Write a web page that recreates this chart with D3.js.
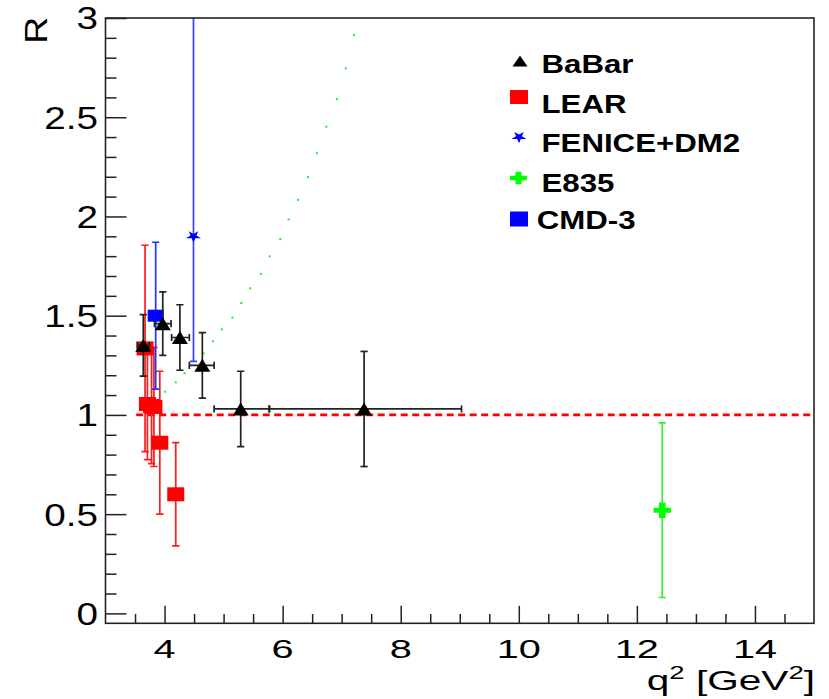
<!DOCTYPE html>
<html>
<head>
<meta charset="utf-8">
<script src="https://cdn.jsdelivr.net/npm/d3@7"></script>
<style>
body { margin: 0; background: #fff; }
text { font-family: "Liberation Sans", Arial, sans-serif; fill: #000; }
</style>
</head>
<body>
<svg width="829" height="699"></svg>
<script>
// BaBar
const babarX = [3.64, 3.97, 4.26, 4.64, 5.29, 7.38];
const babarY = [1.35, 1.46, 1.39, 1.25, 1.03, 1.03];
const babarErr = [0.155, 0.16, 0.165, 0.165, 0.19, 0.29];
const babarXLo = [0.10, 0.14, 0.14, 0.22, 0.45, 1.60];
const babarXHi = [0.10, 0.14, 0.16, 0.20, 0.48, 1.65];

// LEAR
const learX = [3.67, 3.71, 3.78, 3.82, 3.92, 4.19];
const learY = [1.335, 1.055, 1.045, 1.04, 0.86, 0.60];
const learErr = [0.52, 0.28, 0.29, 0.30, 0.36, 0.26];

// FENICE+DM2
const feniceX = [4.49];
const feniceY = [1.90];
const feniceErrLo = [0.63];
const feniceErrHi = [1.40];

// E835
const e835X = [12.43];
const e835Y = [0.52];
const e835Err = [0.44];

// CMD-3
const cmdX = [3.85];
const cmdY = [1.50];
const cmdErr = [0.37];

// green dotted curve, sample points
const curveX = [4.01, 4.19, 4.34, 4.66, 4.82, 4.97, 5.15, 5.30, 5.45, 5.63,
                5.78, 5.96, 6.10, 6.26, 6.43, 6.58, 6.74, 6.92, 7.07, 7.21];
const curveY = [1.117, 1.164, 1.210, 1.310, 1.371, 1.431, 1.490, 1.564, 1.638, 1.711,
                1.799, 1.886, 1.985, 2.084, 2.199, 2.319, 2.452, 2.591, 2.746, 2.914];

// reference line R = 1
const refLineX = [3.52, 15];
const refLineY = 1;

const xMajor = [4, 6, 8, 10, 12, 14];
const yMajor = [0, 0.5, 1, 1.5, 2, 2.5, 3];
const yTickLabels = ["0", "0.5", "1", "1.5", "2", "2.5", "3"];

const legendNames = ["BaBar", "LEAR", "FENICE+DM2", "E835", "CMD-3"];

const svg = d3.select("svg");
const pLeft = 105.5, pRight = 814, pTop = 18, pBottom = 623.3;

const x = d3.scaleLinear().domain([3, 15]).range([pLeft, pRight]);
const y = d3.scaleLinear().domain([-0.05, 3]).range([pBottom, pTop]);

svg.append("clipPath").attr("id", "plotClip")
    .append("rect")
    .attr("x", pLeft).attr("y", pTop)
    .attr("width", pRight - pLeft).attr("height", pBottom - pTop);

const plot = svg.append("g").attr("clip-path", "url(#plotClip)");

// markers
const triPath = (w, h) => `M${-w / 2},${h / 2}L${w / 2},${h / 2}L0,${-h / 2}Z`;
const crossPath = (w, h, tw, th) =>
    `M${-tw / 2},${-h / 2}H${tw / 2}V${-th / 2}H${w / 2}V${th / 2}H${tw / 2}V${h / 2}` +
    `H${-tw / 2}V${th / 2}H${-w / 2}V${-th / 2}H${-tw / 2}Z`;
const starPath = d3.symbol(d3.symbolStar, 55)();

function errorBars(g, xs, ys, lo, hi, color, xlo, xhi) {
    const cap = 3.6;
    xs.forEach((xv, i) => {
        const px = x(xv), py = y(ys[i]);
        const y1 = y(ys[i] - lo[i]), y2 = y(ys[i] + hi[i]);
        g.append("line").attr("x1", px).attr("x2", px).attr("y1", y1).attr("y2", y2)
            .attr("stroke", color).attr("stroke-width", 1.7);
        [y1, y2].forEach(yy => g.append("line")
            .attr("x1", px - cap).attr("x2", px + cap).attr("y1", yy).attr("y2", yy)
            .attr("stroke", color).attr("stroke-width", 1.7));
        if (xlo) {
            const x1 = x(xv - xlo[i]), x2 = x(xv + xhi[i]);
            g.append("line").attr("x1", x1).attr("x2", x2).attr("y1", py).attr("y2", py)
                .attr("stroke", color).attr("stroke-width", 1.7);
            [x1, x2].forEach(xx => g.append("line")
                .attr("x1", xx).attr("x2", xx).attr("y1", py - cap).attr("y2", py + cap)
                .attr("stroke", color).attr("stroke-width", 1.7));
        }
    });
}

// curve dots
plot.append("g").selectAll("rect")
    .data(curveX)
    .enter()
    .append("rect")
    .attr("x", (d, i) => x(d) - 1)
    .attr("y", (d, i) => y(curveY[i]) - 1)
    .attr("width", 2).attr("height", 2)
    .attr("fill", "#22ee22");

// dashed R = 1 line
plot.append("line")
    .attr("x1", x(refLineX[0])).attr("x2", x(refLineX[1]))
    .attr("y1", y(refLineY)).attr("y2", y(refLineY))
    .attr("stroke", "#ff0000").attr("stroke-width", 2.6)
    .attr("stroke-dasharray", "7,4.5");

// LEAR
const gLear = plot.append("g");
errorBars(gLear, learX, learY, learErr, learErr, "#ff1a1a");
gLear.selectAll("rect.m").data(learX).enter().append("rect").attr("class", "m")
    .attr("x", d => x(d) - 8.5).attr("y", (d, i) => y(learY[i]) - 7)
    .attr("width", 17).attr("height", 14).attr("fill", "#ff0000");

// FENICE+DM2
const gFen = plot.append("g");
errorBars(gFen, feniceX, feniceY, feniceErrLo, feniceErrHi, "#3344ff");
gFen.selectAll("path.m").data(feniceX).enter().append("path").attr("class", "m")
    .attr("d", starPath)
    .attr("transform", (d, i) => `translate(${x(d)},${y(feniceY[i])}) rotate(180) scale(1.15,0.9)`)
    .attr("fill", "#0000ff");

// E835
const gE = plot.append("g");
errorBars(gE, e835X, e835Y, e835Err, e835Err, "#33ee33");
gE.selectAll("path.m").data(e835X).enter().append("path").attr("class", "m")
    .attr("d", crossPath(17.5, 15.5, 6.5, 5))
    .attr("transform", (d, i) => `translate(${x(d)},${y(e835Y[i])})`)
    .attr("fill", "#00ff00");

// CMD-3
const gCmd = plot.append("g");
errorBars(gCmd, cmdX, cmdY, cmdErr, cmdErr, "#2233ff");
gCmd.selectAll("rect.m").data(cmdX).enter().append("rect").attr("class", "m")
    .attr("x", d => x(d) - 8).attr("y", (d, i) => y(cmdY[i]) - 6)
    .attr("width", 16).attr("height", 12).attr("fill", "#0000ff");

// BaBar
const gB = plot.append("g");
errorBars(gB, babarX, babarY, babarErr, babarErr, "#222", babarXLo, babarXHi);
gB.selectAll("path.m").data(babarX).enter().append("path").attr("class", "m")
    .attr("d", triPath(16, 13))
    .attr("transform", (d, i) => `translate(${x(d)},${y(babarY[i])})`)
    .attr("fill", "#000");

// axes ticks
function styleAxis(g) {
    g.selectAll("line").attr("stroke", "#222").attr("stroke-width", 1.5);
    g.selectAll("path.domain").remove();
    g.selectAll("text").remove();
}
const yMinor = d3.range(0, 3.001, 0.1).filter(v => Math.abs(v * 2 - Math.round(v * 2)) > 1e-6);
const xMinor = d3.range(3.5, 14.6, 0.5).filter(v => !xMajor.includes(v));

svg.append("g").attr("transform", `translate(${pLeft},0)`)
    .call(d3.axisLeft(y).tickValues(yMajor).tickSize(-21).tickFormat("")).call(styleAxis);
svg.append("g").attr("transform", `translate(${pLeft},0)`)
    .call(d3.axisLeft(y).tickValues(yMinor).tickSize(-11).tickFormat("")).call(styleAxis);
svg.append("g").attr("transform", `translate(0,${pBottom})`)
    .call(d3.axisBottom(x).tickValues(xMajor).tickSize(-17.5).tickFormat("")).call(styleAxis);
svg.append("g").attr("transform", `translate(0,${pBottom})`)
    .call(d3.axisBottom(x).tickValues(xMinor).tickSize(-9.3).tickFormat("")).call(styleAxis);

// frame
svg.append("rect")
    .attr("x", pLeft).attr("y", pTop)
    .attr("width", pRight - pLeft).attr("height", pBottom - pTop)
    .attr("fill", "none").attr("stroke", "#222").attr("stroke-width", 1.6);

// tick labels
svg.append("g").selectAll("text")
    .data(yMajor)
    .enter()
    .append("text")
    .attr("transform", d => `translate(98,${y(d) + 11.4}) scale(1.22,1)`)
    .attr("text-anchor", "end")
    .attr("font-size", 31.7)
    .text((d, i) => yTickLabels[i]);

svg.append("g").selectAll("text")
    .data(xMajor)
    .enter()
    .append("text")
    .attr("transform", d => `translate(${x(d)},657.7) scale(1.55,1)`)
    .attr("text-anchor", "middle")
    .attr("font-size", 25.6)
    .text(d => d);

// axis titles
const xt = svg.append("text")
    .attr("transform", "translate(815,690) scale(1.45,1)")
    .attr("text-anchor", "end")
    .attr("font-size", 28);
xt.append("tspan").text("q");
xt.append("tspan").attr("dy", -11).attr("font-size", 19).text("2");
xt.append("tspan").attr("dy", 11).text(" [GeV");
xt.append("tspan").attr("dy", -11).attr("font-size", 19).text("2");
xt.append("tspan").attr("dy", 11).text("]");

svg.append("text")
    .attr("transform", "translate(47,17) rotate(-90) scale(1.2,1)")
    .attr("text-anchor", "end")
    .attr("font-size", 31)
    .text("R");

// legend
const legendRows = [
    { cx: 520, cy: 61, tx: 541.5, ty: 73.3 },
    { cx: 519, cy: 97, tx: 541.5, ty: 112.7 },
    { cx: 519, cy: 137, tx: 541.5, ty: 151.7 },
    { cx: 518.5, cy: 178, tx: 541.5, ty: 191.7 },
    { cx: 519, cy: 219, tx: 536.7, ty: 229.3 }
];
const leg = svg.append("g");
leg.append("path").attr("d", triPath(15, 11))
    .attr("transform", `translate(${legendRows[0].cx},${legendRows[0].cy})`).attr("fill", "#000");
leg.append("rect").attr("x", legendRows[1].cx - 9).attr("y", legendRows[1].cy - 7)
    .attr("width", 18).attr("height", 14).attr("fill", "#ff0000");
leg.append("path").attr("d", starPath)
    .attr("transform", `translate(${legendRows[2].cx},${legendRows[2].cy}) rotate(180) scale(1.15,0.9)`)
    .attr("fill", "#0000ff");
leg.append("path").attr("d", crossPath(17, 12.5, 6, 4.5))
    .attr("transform", `translate(${legendRows[3].cx},${legendRows[3].cy})`).attr("fill", "#00ff00");
leg.append("rect").attr("x", legendRows[4].cx - 9).attr("y", legendRows[4].cy - 7.5)
    .attr("width", 18).attr("height", 15).attr("fill", "#0000ff");

leg.selectAll("text")
    .data(legendNames)
    .enter()
    .append("text")
    .attr("transform", (d, i) => `translate(${legendRows[i].tx},${legendRows[i].ty}) scale(1.22,1)`)
    .attr("font-size", 25.6)
    .attr("font-weight", "bold")
    .text(d => d);
</script>
</body>
</html>
